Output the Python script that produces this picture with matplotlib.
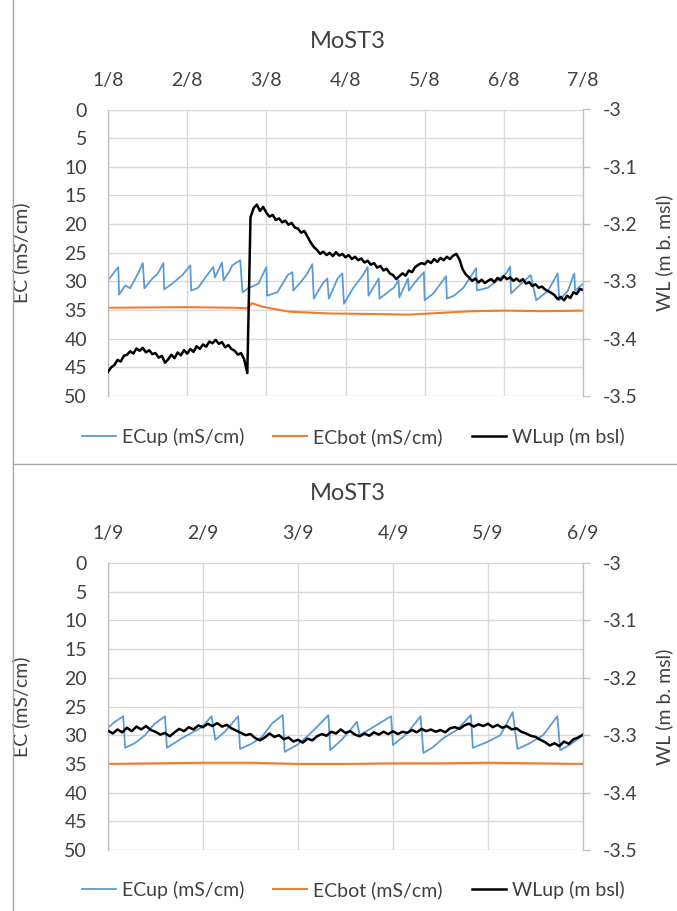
import numpy as np
import matplotlib.pyplot as plt
from matplotlib.lines import Line2D

plt.rcParams['font.family'] = ['Lato', 'DejaVu Sans']
TXT = '#404040'
GRID = '#d9d9d9'

# ---- August panel ----
days_aug = [1, 2, 3, 4, 5, 6, 7]
labels_aug = ['1/8', '2/8', '3/8', '4/8', '5/8', '6/8', '7/8']

ecup_day_aug = [1.00, 1.13, 1.14, 1.22, 1.28, 1.38, 1.44, 1.46, 1.56, 1.63, 1.70, 1.71,
                1.81, 1.94, 2.04, 2.05, 2.14, 2.23, 2.33, 2.35, 2.44, 2.46, 2.54, 2.57,
                2.67, 2.70, 2.77, 2.90, 3.00, 3.01, 3.14, 3.27, 3.33, 3.34, 3.43, 3.52,
                3.58, 3.60, 3.71, 3.77, 3.79, 3.90, 3.96, 3.98, 4.10, 4.22, 4.28, 4.29,
                4.42, 4.43, 4.61, 4.67, 4.68, 4.79, 4.80, 4.90, 4.99, 5.00, 5.11, 5.20,
                5.27, 5.28, 5.37, 5.49, 5.65, 5.66, 5.80, 5.92, 6.03, 6.08, 6.09, 6.22,
                6.34, 6.41, 6.56, 6.68, 6.70, 6.81, 6.89, 6.90, 7.00]
ecup_aug = [29.8, 27.5, 32.3, 30.7, 31.2, 28.6, 26.8, 31.2, 29.5, 28.6, 26.8, 31.4,
            30.4, 28.9, 27.2, 31.6, 31.1, 29.3, 27.5, 29.3, 26.7, 29.8, 28.1, 27.2,
            26.3, 31.9, 31.2, 30.4, 27.5, 32.5, 31.9, 28.9, 28.4, 31.6, 30.2, 28.6,
            27.0, 33.0, 30.4, 29.5, 33.0, 29.5, 28.6, 33.9, 31.1, 28.9, 27.5, 32.5,
            29.5, 33.0, 31.1, 29.8, 32.8, 29.5, 31.6, 29.8, 28.4, 33.3, 32.1, 30.4,
            29.1, 33.0, 32.5, 31.1, 27.7, 31.6, 31.1, 29.8, 28.6, 27.4, 32.1, 30.4,
            28.9, 33.3, 31.6, 28.6, 33.3, 31.6, 28.6, 31.6, 30.4]

ecbot_day_aug = [1.0, 2.0, 2.6, 2.76, 2.82, 2.92, 3.05, 3.3, 3.8, 4.4, 4.8, 5.2, 5.6, 6.0, 6.5, 7.0]
ecbot_aug = [34.6, 34.5, 34.6, 34.7, 33.8, 34.3, 34.7, 35.3, 35.6, 35.7, 35.8, 35.5, 35.2, 35.1, 35.2, 35.1]

# water level, one reading every 0.04 day from 1/8 to 7/8
wl_aug = [-3.458, -3.450, -3.446, -3.437, -3.440, -3.430, -3.428, -3.422, -3.426, -3.417,
          -3.421, -3.416, -3.424, -3.420, -3.427, -3.425, -3.433, -3.430, -3.442, -3.436,
          -3.428, -3.434, -3.424, -3.429, -3.420, -3.426, -3.418, -3.423, -3.413, -3.418,
          -3.410, -3.414, -3.405, -3.408, -3.402, -3.409, -3.406, -3.415, -3.411, -3.418,
          -3.421, -3.428, -3.425, -3.436, -3.460, -3.188, -3.172, -3.166, -3.177, -3.170,
          -3.180, -3.187, -3.184, -3.193, -3.190, -3.197, -3.194, -3.201, -3.198, -3.206,
          -3.208, -3.215, -3.212, -3.222, -3.232, -3.240, -3.245, -3.252, -3.248, -3.254,
          -3.250, -3.256, -3.249, -3.255, -3.252, -3.258, -3.254, -3.261, -3.257, -3.263,
          -3.260, -3.267, -3.264, -3.271, -3.268, -3.276, -3.273, -3.281, -3.278, -3.286,
          -3.289, -3.296, -3.291, -3.286, -3.290, -3.281, -3.284, -3.275, -3.271, -3.268,
          -3.270, -3.264, -3.268, -3.261, -3.266, -3.259, -3.263, -3.257, -3.261, -3.255,
          -3.252, -3.262, -3.279, -3.288, -3.293, -3.299, -3.295, -3.302, -3.297, -3.303,
          -3.299, -3.296, -3.301, -3.294, -3.298, -3.291, -3.296, -3.293, -3.299, -3.295,
          -3.300, -3.296, -3.304, -3.301, -3.308, -3.305, -3.311, -3.309, -3.314, -3.317,
          -3.320, -3.324, -3.331, -3.327, -3.333, -3.325, -3.329, -3.319, -3.322, -3.313, -3.315]

# ---- September panel ----
days_sep = [1, 2, 3, 4, 5, 6]
labels_sep = ['1/9', '2/9', '3/9', '4/9', '5/9', '6/9']

ecup_day_sep = [1.00, 1.07, 1.16, 1.18, 1.28, 1.39, 1.49, 1.60, 1.62, 1.78, 1.88, 1.99,
                2.09, 2.13, 2.23, 2.37, 2.39, 2.52, 2.62, 2.73, 2.84, 2.86, 2.99, 3.11,
                3.21, 3.32, 3.34, 3.46, 3.57, 3.62, 3.65, 3.78, 3.98, 4.00, 4.13, 4.21,
                4.29, 4.32, 4.42, 4.53, 4.67, 4.82, 4.84, 4.99, 5.13, 5.26, 5.31, 5.44,
                5.58, 5.73, 5.76, 5.86, 6.00]
ecup_sep = [28.7, 27.7, 26.7, 32.2, 31.4, 30.0, 28.0, 26.7, 32.2, 30.5, 29.6, 28.6,
            26.7, 30.8, 29.4, 26.7, 32.4, 31.4, 30.3, 27.9, 26.5, 32.9, 31.7, 30.0,
            28.4, 26.5, 32.6, 30.8, 28.7, 27.7, 30.0, 28.7, 26.7, 31.7, 30.0, 28.4,
            26.7, 33.1, 32.1, 30.5, 29.1, 26.5, 32.2, 31.2, 30.0, 26.0, 32.4, 31.4,
            30.0, 26.7, 32.6, 31.7, 30.0]

ecbot_day_sep = [1.0, 1.5, 2.0, 2.5, 3.0, 3.5, 4.0, 4.5, 5.0, 5.5, 6.0]
ecbot_sep = [35.0, 34.9, 34.8, 34.8, 35.0, 35.0, 34.9, 34.9, 34.8, 34.9, 35.0]

# water level, one reading every 0.05 day from 1/9 to 6/9
wl_sep = [-3.292, -3.297, -3.290, -3.295, -3.287, -3.293, -3.285, -3.290, -3.284, -3.291,
          -3.294, -3.299, -3.296, -3.302, -3.295, -3.289, -3.293, -3.286, -3.290, -3.283,
          -3.286, -3.280, -3.284, -3.279, -3.285, -3.282, -3.288, -3.292, -3.296, -3.300,
          -3.298, -3.305, -3.309, -3.304, -3.297, -3.303, -3.300, -3.307, -3.304, -3.311,
          -3.308, -3.313, -3.306, -3.309, -3.302, -3.298, -3.301, -3.294, -3.297, -3.290,
          -3.296, -3.293, -3.299, -3.302, -3.297, -3.301, -3.295, -3.299, -3.294, -3.298,
          -3.293, -3.298, -3.294, -3.296, -3.291, -3.295, -3.289, -3.293, -3.290, -3.294,
          -3.291, -3.295, -3.288, -3.286, -3.289, -3.283, -3.280, -3.285, -3.281, -3.284,
          -3.280, -3.286, -3.282, -3.287, -3.284, -3.290, -3.288, -3.294, -3.297, -3.301,
          -3.303, -3.308, -3.312, -3.318, -3.314, -3.319, -3.311, -3.315, -3.307, -3.304, -3.299]

ec_ticks = [0, 5, 10, 15, 20, 25, 30, 35, 40, 45, 50]
wl_ticks = [-3.0, -3.1, -3.2, -3.3, -3.4, -3.5]
wl_labels = ['-3', '-3.1', '-3.2', '-3.3', '-3.4', '-3.5']
series_names = ['ECup (mS/cm)', 'ECbot (mS/cm)', 'WLup (m bsl)']

W, H = 677, 911
fig = plt.figure(figsize=(W / 100, H / 100), dpi=100)


def panel(top_px, bottom_px, title_px, legend_px, days, labels,
          ecup_d, ecup, ecbot_d, ecbot, wl):
    ax = fig.add_axes([108 / W, 1 - bottom_px / H, 475 / W, (bottom_px - top_px) / H])
    l1, = ax.plot(ecup_d, ecup, color='#5B9BD5', lw=1.3)
    l2, = ax.plot(ecbot_d, ecbot, color='#ED7D31', lw=1.5)
    ax.set_xlim(days[0], days[-1])
    ax.set_ylim(50, 0)
    ax.set_yticks(ec_ticks)
    ax.set_xticks(days)
    ax.set_xticklabels(labels)
    ax.xaxis.tick_top()
    ax.grid(True, color=GRID, lw=1.0)
    ax.set_axisbelow(True)
    ax.tick_params(axis='y', length=0, pad=15, labelsize=14, labelcolor=TXT)
    ax.tick_params(axis='x', length=0, pad=15, labelsize=14, labelcolor=TXT)
    for s in ['top', 'bottom', 'right']:
        ax.spines[s].set_visible(False)
    ax.spines['left'].set_color('#bfbfbf')
    ax.spines['left'].set_linewidth(1.0)
    ax.set_ylabel('EC (mS/cm)', fontsize=14, color=TXT)
    ax.yaxis.set_label_coords(-(108 - 30) / 475, 0.5)

    ax2 = ax.twinx()
    t = np.linspace(days[0], days[-1], len(wl))
    l3, = ax2.plot(t, wl, color='black', lw=1.8)
    ax2.set_ylim(-3.5, -3.0)
    ax2.set_yticks(wl_ticks)
    ax2.set_yticklabels(wl_labels)
    ax2.tick_params(axis='y', length=5, width=1.0, color='#bfbfbf', pad=9,
                    labelsize=14, labelcolor=TXT)
    for s in ['top', 'bottom', 'left']:
        ax2.spines[s].set_visible(False)
    ax2.spines['right'].set_color('#bfbfbf')
    ax2.spines['right'].set_linewidth(1.0)
    ax2.set_ylabel('WL (m b. msl)', fontsize=14, color=TXT)
    ax2.yaxis.set_label_coords(1 + (655 - 583) / 475, 0.5)

    fig.text(348 / W, 1 - title_px / H, 'MoST3', ha='center', va='center',
             fontsize=17, color=TXT)
    fig.legend([l1, l2, l3], series_names, loc='center', ncol=3, frameon=False,
               bbox_to_anchor=(353 / W, 1 - legend_px / H), fontsize=14,
               handlelength=1.75, handletextpad=0.3, columnspacing=1.5,
               labelcolor=TXT)


panel(109.5, 396, 41, 437, days_aug, labels_aug,
      ecup_day_aug, ecup_aug, ecbot_day_aug, ecbot_aug, wl_aug)
panel(563, 850, 494, 890, days_sep, labels_sep,
      ecup_day_sep, ecup_sep, ecbot_day_sep, ecbot_sep, wl_sep)

# chart frames
fig.add_artist(Line2D([12.5 / W, 12.5 / W], [0, 1], color='#a6a6a6', lw=1.0))
fig.add_artist(Line2D([12.5 / W, 1], [1 - 463.5 / H, 1 - 463.5 / H], color='#a6a6a6', lw=1.0))

fig.savefig('out.png', dpi=100)
